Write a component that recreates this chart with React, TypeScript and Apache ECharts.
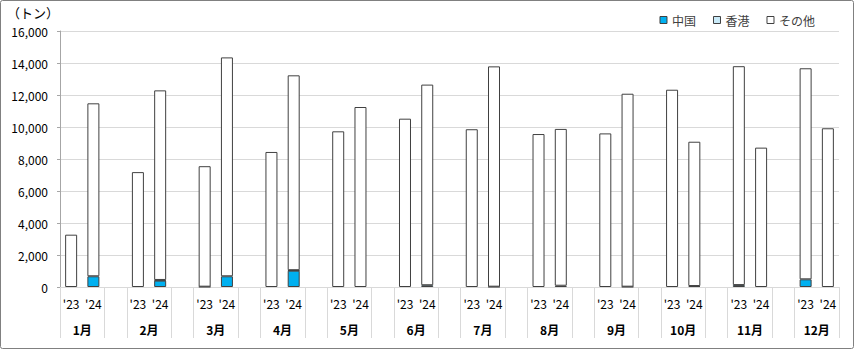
import React, { useEffect, useRef } from "react";
import * as echarts from "echarts";

const months = ["1月", "2月", "3月", "4月", "5月", "6月", "7月", "8月", "9月", "10月", "11月", "12月"];
const yearLabels = ["'23", "'24"];
const seriesNames = ["中国", "香港", "その他"];
const yTicks = [0, 2000, 4000, 6000, 8000, 10000, 12000, 14000, 16000];

const china23 = [0, 0, 20, 0, 0, 0, 0, 0, 0, 0, 120, 480];
const china24 = [670, 400, 670, 1020, 0, 110, 20, 80, 20, 60, 0, 0];
const hk23 = [0, 0, 0, 0, 0, 0, 0, 0, 0, 0, 0, 0];
const hk24 = [0, 40, 0, 30, 0, 0, 0, 0, 0, 0, 0, 0];
const other23 = [3270, 7180, 7530, 8440, 9730, 10520, 9860, 9560, 9600, 12330, 13680, 13190];
const other24 = [10810, 11850, 13680, 12180, 11250, 12540, 13770, 9800, 12060, 9020, 8710, 9920];

const FONT = "'Noto Sans CJK JP', 'Noto Sans', sans-serif";

function interleave(a23: number[], a24: number[]) {
  const out: (number | string)[] = [];
  const v = (x: number) => (x === 0 ? "-" : x);
  months.forEach((_, i) => {
    out.push(v(a23[i]), v(a24[i]));
    if (i < months.length - 1) out.push("-");
  });
  return out;
}

const categories: string[] = [];
months.forEach((_, i) => {
  categories.push(yearLabels[0], yearLabels[1]);
  if (i < months.length - 1) categories.push("");
});

const monthLabelPos = months.map((_, i) => i * 3 + 1);
const separatorPos: number[] = [0];
months.forEach((_, i) => {
  separatorPos.push(i * 3 + 2);
  if (i < months.length - 1) separatorPos.push(i * 3 + 3);
});

export default function App() {
  const ref = useRef<HTMLDivElement>(null);
  useEffect(() => {
    document.body.style.margin = "0";
    const chart = echarts.init(ref.current!, null, { renderer: "svg" });
    const colors = ["#00B0F0", "#C9EAF8", "#FFFFFF"];
    const dataSets = [
      interleave(china23, china24),
      interleave(hk23, hk24),
      interleave(other23, other24),
    ];
    chart.setOption({
      animation: false,
      textStyle: { fontFamily: FONT },
      grid: { left: 60, right: 15, top: 31, bottom: 62 },
      legend: {
        right: 34,
        top: 9,
        itemWidth: 7,
        itemHeight: 7,
        itemGap: 17,
        icon: "rect",
        textStyle: { fontSize: 12, color: "#404040", fontFamily: FONT },
        itemStyle: { borderColor: "#404040", borderWidth: 1 },
        data: seriesNames,
      },
      xAxis: [
        {
          type: "category",
          data: categories,
          axisTick: { show: false },
          axisLine: { lineStyle: { color: "#d9d9d9" } },
          axisLabel: { interval: 0, margin: 10, fontSize: 12, color: "#000", fontFamily: FONT },
        },
        {
          type: "value",
          min: 0,
          max: categories.length,
          position: "bottom",
          axisLine: { show: false },
          splitLine: { show: false },
          axisTick: {
            show: true,
            customValues: separatorPos,
            length: 51,
            lineStyle: { color: "#d9d9d9" },
          },
          axisLabel: {
            customValues: monthLabelPos,
            formatter: (v: number) => months[Math.round((v - 1) / 3)] ?? "",
            margin: 36,
            fontSize: 12,
            fontWeight: "bold",
            color: "#000",
            fontFamily: FONT,
          },
        },
      ],
      yAxis: {
        type: "value",
        min: 0,
        max: 16000,
        interval: 2000,
        axisLine: { show: true, lineStyle: { color: "#a6a6a6" } },
        axisTick: { show: true, length: 3, lineStyle: { color: "#a6a6a6" } },
        splitLine: { lineStyle: { color: "#d9d9d9", width: 1 } },
        axisLabel: {
          margin: 12,
          fontSize: 12,
          color: "#000",
          fontFamily: FONT,
          customValues: yTicks,
          formatter: (v: number) => v.toLocaleString("en-US"),
        },
      },
      graphic: [
        {
          type: "rect",
          shape: { x: 0.5, y: 0.5, width: 853, height: 348, r: 2 },
          style: { fill: "none", stroke: "#808080", lineWidth: 1 },
          silent: true,
        },
        {
          type: "text",
          left: 7,
          top: 6,
          style: { text: "（トン）", fontSize: 13, fill: "#000", fontFamily: FONT },
        },
      ],
      series: seriesNames.map((name, i) => ({
        name,
        type: "bar",
        stack: "total",
        barWidth: 12,
        data: dataSets[i],
        itemStyle: { color: colors[i], borderColor: "#404040", borderWidth: 1 },
      })),
    });
    return () => chart.dispose();
  }, []);
  return <div ref={ref} style={{ width: 854, height: 349, position: "absolute", left: 0, top: 0 }} />;
}
